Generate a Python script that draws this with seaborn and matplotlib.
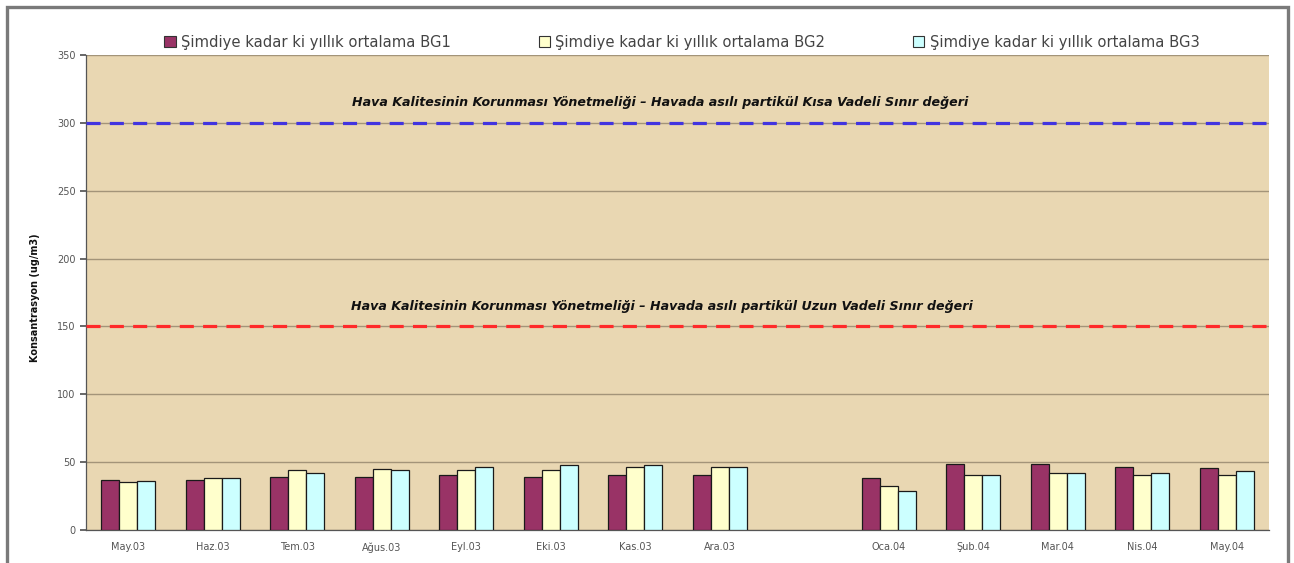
import matplotlib
matplotlib.use("Agg")
import matplotlib.pyplot as plt
from matplotlib.patches import Rectangle, Patch
from matplotlib.ticker import MultipleLocator, FixedLocator
import numpy as np
import pandas as pd
import seaborn as sns

# Monthly labels (one empty slot between Ara.03 and Oca.04)
months = ["May.03", "Haz.03", "Tem.03", "Ağus.03", "Eyl.03", "Eki.03", "Kas.03",
          "Ara.03", " ", "Oca.04", "Şub.04", "Mar.04", "Nis.04", "May.04"]
data_months = ["May.03", "Haz.03", "Tem.03", "Ağus.03", "Eyl.03", "Eki.03", "Kas.03",
               "Ara.03", "Oca.04", "Şub.04", "Mar.04", "Nis.04", "May.04"]

bg1 = [36.5, 36.8, 39.0, 39.0, 40.5, 39.0, 40.7, 40.7, 38.0, 48.8, 49.0, 46.3, 45.9]
bg2 = [35.6, 38.0, 43.9, 44.6, 43.9, 43.9, 46.1, 46.1, 32.2, 40.2, 42.0, 40.2, 40.2]
bg3 = [36.1, 38.0, 42.0, 44.4, 46.3, 47.8, 47.8, 46.1, 28.5, 40.2, 42.0, 41.7, 43.2]

series_names = ["Şimdiye kadar ki yıllık ortalama BG1",
                "Şimdiye kadar ki yıllık ortalama BG2",
                "Şimdiye kadar ki yıllık ortalama BG3"]
series_colors = ["#993366", "#FFFFCC", "#CCFFFF"]

short_limit = 300   # Kısa vadeli sınır değeri
long_limit = 150    # Uzun vadeli sınır değeri
short_text = "Hava Kalitesinin Korunması Yönetmeliği – Havada asılı partikül Kısa Vadeli Sınır değeri"
long_text = "Hava Kalitesinin Korunması Yönetmeliği – Havada asılı partikül Uzun Vadeli Sınır değeri"

df = pd.DataFrame({
    "Ay": data_months * 3,
    "Seri": sum([[n] * len(data_months) for n in series_names], []),
    "Değer": bg1 + bg2 + bg3,
})

sns.set_theme(style="white")
plt.rcParams["font.family"] = ["DejaVu Sans"]

W, H = 1294, 563
fig = plt.figure(figsize=(W / 100, H / 100), dpi=100)
fig.patch.set_facecolor("white")

ax = fig.add_axes([86 / W, 1 - 530 / H, (1269 - 86) / W, (530 - 55) / H])
ax.set_facecolor("#E9D7B2")

sns.barplot(data=df, x="Ay", y="Değer", hue="Seri", order=months,
            hue_order=series_names, palette=series_colors, width=0.64,
            gap=0, edgecolor="#1a1a1a", linewidth=0.9, saturation=1,
            legend=False, ax=ax, zorder=3)

ax.set_xlim(-0.5, len(months) - 0.5)
ax.set_ylim(0, 350)
ax.yaxis.set_major_locator(MultipleLocator(50))
ax.grid(axis="y", color="#A39479", linewidth=1.0, zorder=1)
ax.grid(axis="x", visible=False)

# Limit lines with their captions
ax.axhline(short_limit, color="#4234E0", linewidth=2.3, dashes=(4.4, 2.9), zorder=4)
ax.axhline(long_limit, color="#FF2A2A", linewidth=2.3, dashes=(4.4, 2.9), zorder=4)
ax.text(6.3, short_limit + 10, short_text, ha="center", va="bottom", fontsize=9.1,
        fontweight="bold", fontstyle="oblique", color="#111111", zorder=5)
ax.text(6.32, long_limit + 10, long_text, ha="center", va="bottom", fontsize=9.1,
        fontweight="bold", fontstyle="oblique", color="#111111", zorder=5)

# Axes styling
for side in ("top", "right"):
    ax.spines[side].set_visible(False)
for side in ("left", "bottom"):
    ax.spines[side].set_color("#555555")
    ax.spines[side].set_linewidth(0.9)

ax.set_xlabel("")
ax.set_ylabel("Konsantrasyon (ug/m3)", fontsize=7, fontweight="bold", color="#111111")
ax.yaxis.set_label_coords(-0.039, 0.49)
ax.tick_params(axis="x", which="major", length=0, labelsize=7, labelcolor="#555555", pad=9)
ax.xaxis.set_minor_locator(FixedLocator(np.arange(0.5, len(months) - 0.5, 1.0)))
ax.tick_params(axis="x", which="minor", length=4, color="#555555", direction="out")
ax.tick_params(axis="y", which="major", length=4, color="#555555", direction="out",
               labelsize=7, labelcolor="#555555", left=True)

# Legend across the top
handles = [Patch(facecolor=c, edgecolor="#333333", linewidth=0.8) for c in series_colors]
fig.legend(handles, series_names, loc="center", bbox_to_anchor=(682 / W, 1 - 42 / H),
           ncol=3, frameon=False, fontsize=10.6, handlelength=0.75, handleheight=0.75,
           handletextpad=0.35, columnspacing=6.0, labelcolor="#444444")

# Outer chart frame
fig.patches.append(Rectangle((7 / W, -0.05), (1288 - 7) / W, 1.05 - 7 / H,
                             transform=fig.transFigure, fill=False,
                             edgecolor="#7a7a7a", linewidth=2.4, zorder=10))

fig.savefig("out.png", dpi=100, facecolor="white")
